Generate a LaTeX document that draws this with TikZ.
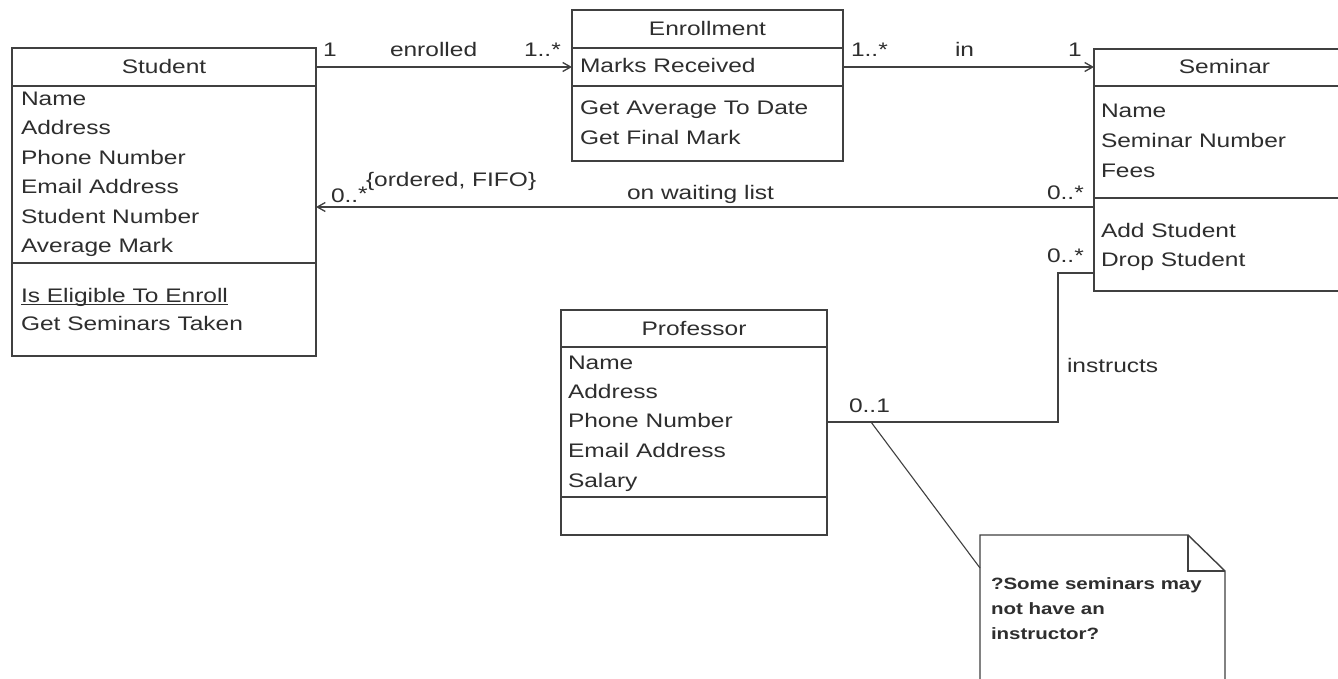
\documentclass[tikz,border=0pt]{standalone}
\usepackage{fontspec}
\setmainfont{Liberation Sans}[FakeStretch=1.25]
\usetikzlibrary{arrows.meta,calc}
\definecolor{ink}{HTML}{2E2E2E}
\definecolor{edge}{HTML}{404040}
\begin{document}
\begin{tikzpicture}[x=1pt,y=-1pt,
  comp/.style={draw=edge, line width=1.5pt, fill=white, inner sep=0pt, outer sep=0pt, anchor=north west},
  txt/.style={inner sep=0pt, outer sep=0pt, anchor=base west, text=ink, font=\fontsize{19.6}{23}\selectfont},
  ttl/.style={txt, anchor=base},
  notetxt/.style={inner sep=0pt, outer sep=0pt, anchor=base west, text=ink, font=\bfseries\fontsize{16.4}{20}\selectfont},
  assoc/.style={draw=edge, line width=1.5pt},
  nav/.style={assoc, -{Straight Barb[length=8pt,width=9pt,line width=1.3pt]}}]
\useasboundingbox (0,0) rectangle (1338,679);
\clip (0,0) rectangle (1338,679);
\fill[white] (0,0) rectangle (1338,679);

% ---------- Student ----------
\node[comp, minimum width=304pt, minimum height=38pt]  (stuT) at (12,48)  {};
\node[comp, minimum width=304pt, minimum height=177pt] (stuA) at (12,86)  {};
\node[comp, minimum width=304pt, minimum height=93pt]  (stuO) at (12,263) {};
\node[ttl] (stuName) at (164,74) {Student};
\node[txt] (sa1) at (21,106)   {Name};
\node[txt] (sa2) at (21,135)   {Address};
\node[txt] (sa3) at (21,164.5) {Phone Number};
\node[txt] (sa4) at (21,194)   {Email Address};
\node[txt] (sa5) at (21,223)   {Student Number};
\node[txt] (sa6) at (21,252.5) {Average Mark};
\node[txt] (so1) at (21,302)   {Is Eligible To Enroll};
\draw[ink, line width=1.1pt] ($(so1.base west)+(0,2.5)$) -- ($(so1.base east)+(0,2.5)$);
\node[txt] (so2) at (21,330)   {Get Seminars Taken};

% ---------- Enrollment ----------
\node[comp, minimum width=271pt, minimum height=38pt] (enrT) at (572,10) {};
\node[comp, minimum width=271pt, minimum height=38pt] (enrA) at (572,48) {};
\node[comp, minimum width=271pt, minimum height=75pt] (enrO) at (572,86) {};
\node[ttl] (enrName) at (707.5,36) {Enrollment};
\node[txt] (ea1) at (580,73)    {Marks Received};
\node[txt] (eo1) at (580,115)   {Get Average To Date};
\node[txt] (eo2) at (580,144.5) {Get Final Mark};

% ---------- Seminar ----------
\node[comp, minimum width=261pt, minimum height=37pt]  (semT) at (1094,49)  {};
\node[comp, minimum width=261pt, minimum height=112pt] (semA) at (1094,86)  {};
\node[comp, minimum width=261pt, minimum height=93pt]  (semO) at (1094,198) {};
\node[ttl] (semName) at (1224.5,74) {Seminar};
\node[txt] (ma1) at (1101,118) {Name};
\node[txt] (ma2) at (1101,148) {Seminar Number};
\node[txt] (ma3) at (1101,178) {Fees};
\node[txt] (mo1) at (1101,237) {Add Student};
\node[txt] (mo2) at (1101,266) {Drop Student};

% ---------- Professor ----------
\node[comp, minimum width=266pt, minimum height=37pt]  (proT) at (561,310) {};
\node[comp, minimum width=266pt, minimum height=150pt] (proA) at (561,347) {};
\node[comp, minimum width=266pt, minimum height=38pt]  (proO) at (561,497) {};
\node[ttl] (proName) at (694,335) {Professor};
\node[txt] (pa1) at (568,369) {Name};
\node[txt] (pa2) at (568,398) {Address};
\node[txt] (pa3) at (568,427) {Phone Number};
\node[txt] (pa4) at (568,457) {Email Address};
\node[txt] (pa5) at (568,487) {Salary};

% ---------- Note ----------
\node[inner sep=0pt, outer sep=0pt, minimum width=245pt, minimum height=160pt, anchor=north west] (note) at (980,535) {};
\draw[edge, line width=1.4pt, fill=white]
  (note.north west) -- ($(note.north east)+(-37,0)$) -- ($(note.north east)+(0,36)$)
  -- (note.south east) -- (note.south west) -- cycle;
\draw[edge, line width=1.2pt]
  ($(note.north east)+(-37,0)$) -- ($(note.north east)+(-37,36)$) -- ($(note.north east)+(0,36)$);
\node[notetxt] (n1) at (991,589) {?Some seminars may};
\node[notetxt] (n2) at (991,614) {not have an};
\node[notetxt] (n3) at (991,639) {instructor?};

% ---------- Associations ----------
\draw[nav] (stuT.east) -- (enrA.west);
\node[txt] (l1)  at (323,57)  {1};
\node[txt] (l2)  at (390,57)  {enrolled};
\node[txt] (l3)  at (524,57)  {1..*};

\draw[nav] (enrA.east) -- (enrA.east -| semT.west);
\node[txt] (l4)  at (851,57)  {1..*};
\node[txt] (l5)  at (955,57)  {in};
\node[txt] (l6)  at (1068,57) {1};

\coordinate (wl) at ($(semO.north west)+(0,9)$);
\draw[nav] (wl) -- (wl -| stuA.east);
\node[txt] (l7)  at (331,203) {0..\raisebox{2pt}{*}};
\node[txt] (l8)  at (366,187) {\{ordered, FIFO\}};
\node[txt] (l9)  at (627,200) {on waiting list};
\node[txt] (l10) at (1047,200) {0..*};

\coordinate (semin) at ($(semO.south west)+(0,-18)$);
\coordinate (bend) at ($(semin)+(-36,0)$);
\draw[assoc] (proA.east) -| (bend) -- (semin);
\node[txt] (l11) at (1047,262) {0..*};
\node[txt] (l12) at (1067,372) {instructs};
\node[txt] (l13) at (849,412)  {0..1};

\coordinate (noteref) at ($(proA.east)+(44,0)$);
\draw[edge, line width=1.1pt] (noteref) -- ($(note.north west)+(0,33)$);
\end{tikzpicture}
\end{document}
